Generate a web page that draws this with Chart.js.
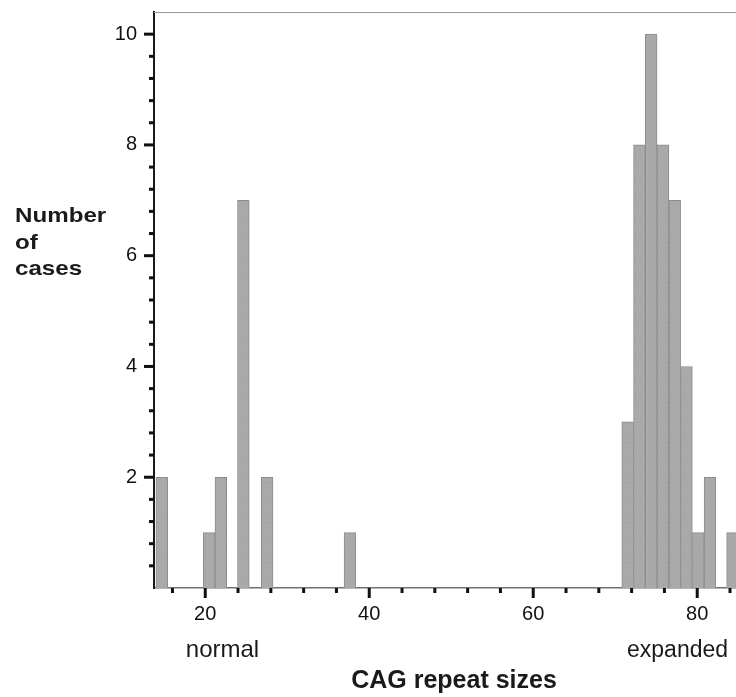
<!DOCTYPE html>
<html>
<head>
<meta charset="utf-8">
<script src="https://cdn.jsdelivr.net/npm/chart.js@4.4.1/dist/chart.umd.min.js"></script>
<style>
  html, body { margin: 0; padding: 0; background: #fff; }
  #wrap { width: 736px; height: 697px; }
</style>
</head>
<body>
<div id="wrap"><canvas id="cagChart" width="736" height="697"></canvas></div>
<script>
// CAG repeat histogram (bin centres, counts)
const binCenters = [14.70, 20.47, 21.90, 24.65, 27.55, 37.65,
                    71.52, 72.95, 74.39, 75.82, 77.26, 78.69, 80.13, 81.56, 84.30];
const caseCounts = [2, 1, 2, 7, 2, 1,
                    3, 8, 10, 8, 7, 4, 1, 2, 1];

const xTickValues = [16, 20, 24, 28, 32, 36, 40, 44, 48, 52, 56, 60, 64, 68, 72, 76, 80, 84];
const xTickLabels = [20, 40, 60, 80];
const yTickValues = [0.4, 0.8, 1.2, 1.6, 2, 2.4, 2.8, 3.2, 3.6, 4, 4.4, 4.8, 5.2, 5.6, 6,
                     6.4, 6.8, 7.2, 7.6, 8, 8.4, 8.8, 9.2, 9.6, 10];
const yTickLabels = [2, 4, 6, 8, 10];

// faint speckle for the scanned grey bars
const patCanvas = document.createElement('canvas');
patCanvas.width = 5; patCanvas.height = 5;
const pctx = patCanvas.getContext('2d');
const shades = ['#adadad', '#a7a7a7', '#ababab', '#a4a4a4', '#aeaeae',
                '#a6a6a6', '#afafaf', '#a5a5a5', '#acacac', '#a8a8a8',
                '#ababab', '#a3a3a3', '#adadad', '#a9a9a9', '#a5a5a5',
                '#a8a8a8', '#acacac', '#a6a6a6', '#aeaeae', '#a7a7a7',
                '#a4a4a4', '#a9a9a9', '#afafaf', '#a5a5a5', '#ababab'];
shades.forEach((c, i) => { pctx.fillStyle = c; pctx.fillRect(i % 5, Math.floor(i / 5), 1, 1); });
const barFill = pctx.createPattern(patCanvas, 'repeat');

const noPad = s => { s.paddingTop = 0; s.paddingBottom = 0; s.paddingLeft = 0; s.paddingRight = 0; };

const axisMarks = {
  id: 'axisMarks',
  afterDraw(chart) {
    const { ctx, chartArea, scales: { x, y } } = chart;
    ctx.save();
    // top frame line
    ctx.strokeStyle = '#9a9a9a';
    ctx.lineWidth = 1;
    ctx.beginPath();
    ctx.moveTo(chartArea.left, chartArea.top + 0.5);
    ctx.lineTo(chartArea.right, chartArea.top + 0.5);
    ctx.stroke();

    ctx.fillStyle = '#111';
    x.ticks.forEach(t => {
      const px = x.getPixelForValue(t.value);
      const len = xTickLabels.includes(t.value) ? 10 : 5;
      ctx.fillRect(px - 1.5, chartArea.bottom, 3, len);
    });
    y.ticks.forEach(t => {
      const py = y.getPixelForValue(t.value);
      const len = yTickLabels.includes(t.value) ? 10 : 5;
      ctx.fillRect(chartArea.left - len, py - 1.5, len, 3);
    });

    // group labels under the axis
    ctx.fillStyle = '#1a1a1a';
    ctx.textAlign = 'center';
    ctx.textBaseline = 'alphabetic';
    ctx.font = '24px "Liberation Sans", Arial, sans-serif';
    ctx.fillText('normal', x.getPixelForValue(22.1), 657);
    ctx.font = '23px "Liberation Sans", Arial, sans-serif';
    ctx.fillText('expanded', x.getPixelForValue(77.6), 657);

    // axis titles
    ctx.font = 'bold 25px "Liberation Sans", Arial, sans-serif';
    ctx.fillText('CAG repeat sizes', 454, 688);

    ctx.textAlign = 'left';
    ctx.font = 'bold 21px "Liberation Sans", Arial, sans-serif';
    ['Number', 'of', 'cases'].forEach((line, i) => {
      ctx.save();
      ctx.translate(15, 222 + i * 26.6);
      ctx.scale(1.15, 1);
      ctx.fillText(line, 0, 0);
      ctx.restore();
    });
    ctx.restore();
  }
};

new Chart(document.getElementById('cagChart'), {
  type: 'bar',
  data: {
    datasets: [{
      data: binCenters.map((c, i) => ({ x: c, y: caseCounts[i] })),
      backgroundColor: barFill,
      borderColor: '#8c8c8c',
      borderWidth: 1,
      barPercentage: 1,
      categoryPercentage: 1
    }]
  },
  options: {
    responsive: false,
    animation: false,
    devicePixelRatio: 1,
    layout: { padding: { top: 12, right: 0, bottom: 0, left: 0 } },
    plugins: { legend: { display: false }, tooltip: { enabled: false } },
    scales: {
      x: {
        type: 'linear',
        min: 13.75,
        max: 84.73,
        offset: false,
        grid: { display: false, drawTicks: false },
        border: { display: true, color: '#707070', width: 1.5 },
        afterBuildTicks: s => { s.ticks = xTickValues.map(v => ({ value: v })); },
        afterFit: s => { s.height = 109; noPad(s); },
        ticks: {
          autoSkip: false,
          maxRotation: 0,
          padding: 14,
          color: '#111',
          font: { family: '"Liberation Sans", Arial, sans-serif', size: 20 },
          callback: v => xTickLabels.includes(v) ? String(v) : ''
        }
      },
      y: {
        min: 0,
        max: 10.4,
        grid: { display: false, drawTicks: false },
        border: { display: true, color: '#1a1a1a', width: 2 },
        afterBuildTicks: s => { s.ticks = yTickValues.map(v => ({ value: v })); },
        afterFit: s => { s.width = 154; noPad(s); },
        ticks: {
          autoSkip: false,
          padding: 17,
          color: '#111',
          font: { family: '"Liberation Sans", Arial, sans-serif', size: 20 },
          callback: v => yTickLabels.includes(v) ? String(v) : ''
        }
      }
    }
  },
  plugins: [axisMarks]
});
</script>
</body>
</html>
